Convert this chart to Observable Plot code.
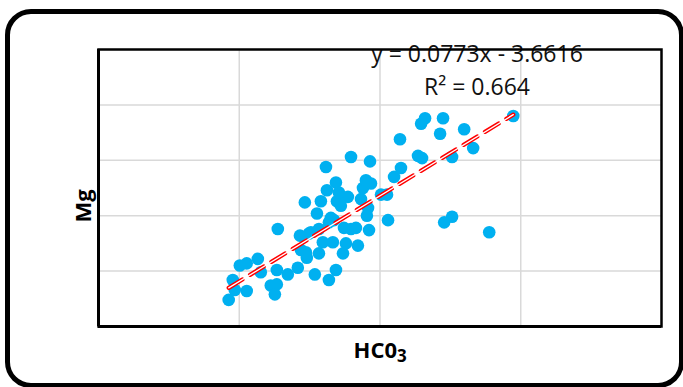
<!DOCTYPE html>
<html>
<head>
<meta charset="utf-8">
<script src="https://cdn.jsdelivr.net/npm/d3@7"></script>
<script src="https://cdn.jsdelivr.net/npm/@observablehq/plot@0.6"></script>
<style>
  html, body { margin: 0; padding: 0; background: #fff; }
  #wrap { position: relative; width: 683px; height: 387px; overflow: hidden; background: #fff; }
  #wrap svg { position: absolute; left: 0; top: 0; }
  #border { position: absolute; left: 5px; top: 9px; right: -1px; bottom: -1px;
            border: 5px solid #000; border-radius: 26px; box-sizing: border-box; pointer-events: none; }
</style>
</head>
<body>
<div id="wrap"><div id="border"></div></div>
<script>
// HCO3 (x) and Mg (y) values
const hco3 = [92.5, 95.4, 96.8, 100.4, 105.3, 105.3, 113.2, 115.3, 127.4, 126.7,
  122.4, 126.7, 125.3, 134.5, 141.6, 143.1, 146.6, 149.5, 143.8, 148.0,
  153.7, 156.6, 156.6, 155.2, 161.6, 158.0, 163.7, 168.7, 162.3, 168.7,
  165.1, 166.5, 167.3, 169.4, 172.2, 173.7, 175.8, 177.2, 170.8, 179.4,
  184.3, 179.4, 182.9, 187.9, 186.5, 190.0, 192.9, 193.6, 191.5, 190.7,
  192.2, 200.7, 205.0, 205.7, 210.0, 214.9, 214.2, 227.0, 229.9, 229.2,
  232.0, 242.7, 244.8, 245.6, 251.2, 251.2, 259.8, 266.2, 277.6, 294.7,
  163.7, 174.4, 147.3, 159.4, 150.9];
const mg = [2.4, 4.2, 3.3, 5.5, 5.7, 3.2, 6.1, 4.9, 8.8, 5.1,
  3.7, 3.8, 2.9, 4.7, 5.3, 8.2, 11.2, 8.4, 6.9, 6.2,
  4.7, 6.6, 8.8, 10.2, 14.4, 11.3, 4.2, 5.1, 12.3, 13.0,
  9.8, 7.6, 9.6, 11.3, 10.9, 6.6, 7.5, 11.7, 12.1, 15.3,
  7.3, 8.8, 8.9, 12.5, 11.5, 13.2, 14.9, 12.9, 10.7, 10.0,
  8.7, 11.9, 11.9, 9.6, 13.5, 14.3, 16.9, 15.4, 15.2, 18.3,
  18.8, 17.4, 18.8, 9.4, 9.9, 15.3, 17.8, 16.1, 8.5, 19.0,
  9.4, 8.9, 6.7, 7.6, 8.5];
// Trendline from the equation shown on the chart
const slope = 0.0773;
const intercept = -3.6616;
const equationLines = ["y = 0.0773x - 3.6616", "R² = 0.664"];
const xLabel = "HC0";
const xLabelSub = "3";
const yLabel = "Mg";
const xGridTicks = [100, 200, 300];
const yGridTicks = [5, 10, 15, 20];
const xDomain = [0, 400];
const yDomain = [0, 25];

const points = hco3.map((x, i) => ({x, y: mg[i]}));
const [x0, x1] = d3.extent(hco3);
const trend = [x0, x1].map(x => ({x, y: slope * x + intercept}));

const chart = Plot.plot({
  width: 683,
  height: 387,
  marginLeft: 98,
  marginRight: 22,
  marginTop: 49,
  marginBottom: 61,
  style: {fontFamily: "Open Sans", background: "transparent"},
  x: {domain: xDomain, axis: null},
  y: {domain: yDomain, axis: null},
  marks: [
    Plot.gridX(xGridTicks, {stroke: "#d9d9d9", strokeOpacity: 1, strokeWidth: 1.5}),
    Plot.gridY(yGridTicks, {stroke: "#d9d9d9", strokeOpacity: 1, strokeWidth: 1.5}),
    Plot.text([equationLines.join("\n")], {
      frameAnchor: "top", lineAnchor: "top", textAnchor: "middle",
      dx: 97, dy: -11, fontSize: 23, lineHeight: 1.43, fill: "#111"
    }),
    Plot.dot(points, {x: "x", y: "y", r: 6.3, fill: "#00B0F0", stroke: "none"}),
    Plot.line(trend, {x: "x", y: "y", stroke: "#FF0000", strokeWidth: 4.2, strokeDasharray: "16,9"}),
    Plot.line(trend, {x: "x", y: "y", stroke: "#fff", strokeWidth: 1.3}),
    Plot.frame({stroke: "#000", strokeWidth: 2.5}),
    Plot.ruleX([xDomain[0]], {stroke: "#000", strokeWidth: 3}),
    Plot.ruleY([yDomain[0]], {stroke: "#000", strokeWidth: 3}),
    Plot.text([xLabel], {
      frameAnchor: "bottom", textAnchor: "end", lineAnchor: "middle",
      dx: 17, dy: 24, fontSize: 22, fontWeight: "bold", fill: "#000"
    }),
    Plot.text([xLabelSub], {
      frameAnchor: "bottom", textAnchor: "start", lineAnchor: "middle",
      dx: 17, dy: 30, fontSize: 17, fontWeight: "bold", fill: "#000"
    }),
    Plot.text([yLabel], {
      frameAnchor: "left", textAnchor: "middle", lineAnchor: "middle",
      rotate: -90, dx: -15, dy: 18, fontSize: 22, fontWeight: "bold", fill: "#000"
    })
  ]
});
document.getElementById("wrap").insertBefore(chart, document.getElementById("border"));
</script>
</body>
</html>
